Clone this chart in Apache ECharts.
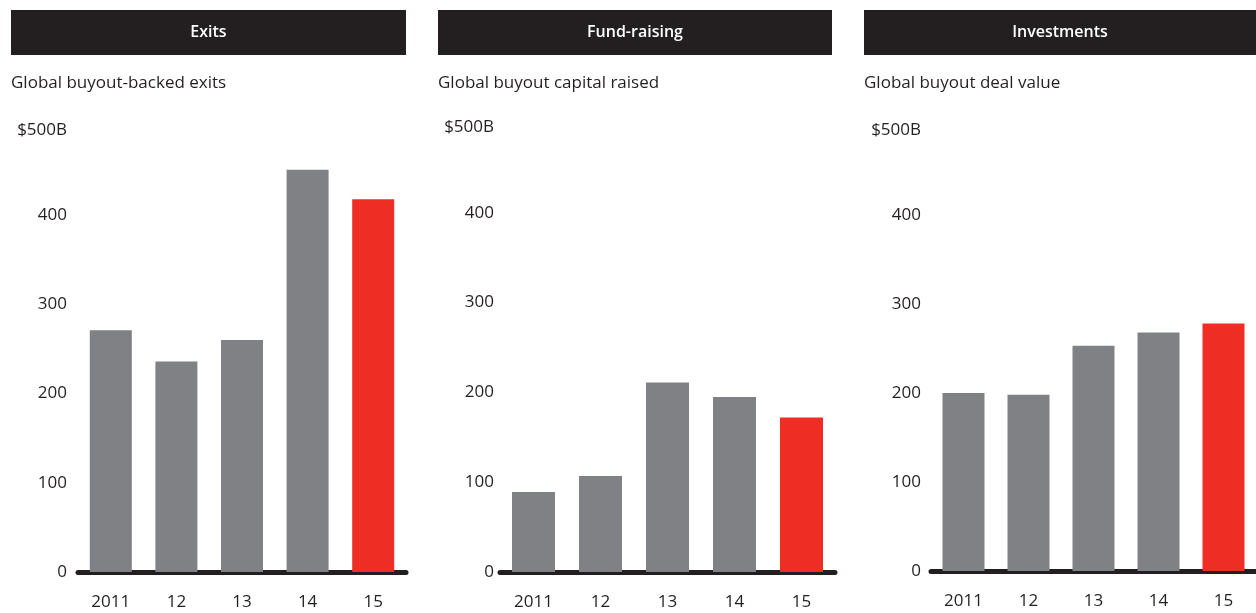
<!DOCTYPE html>
<html>
<head>
<meta charset="utf-8">
<script src="https://cdn.jsdelivr.net/npm/echarts@6/dist/echarts.min.js"></script>
<style>
  html, body { margin: 0; padding: 0; background: #fff; }
  #myChart { width: 1256px; height: 613px; }
</style>
</head>
<body>
<div id="myChart"></div>
<script>
// data
var years = ["2011", "12", "13", "14", "15"];
var headers = ["Exits", "Fund-raising", "Investments"];
var subtitles = ["Global buyout-backed exits", "Global buyout capital raised", "Global buyout deal value"];
var exits = [271, 236, 260, 451, 418];
var fundRaising = [89, 107, 211, 195, 172];
var investments = [200, 198, 253, 268, 278];
var yTicks = [0, 100, 200, 300, 400, 500];

var GRAY = "#808185";
var RED = "#ee2d24";
var DARK = "#231f20";
var FONT = "Open Sans";

var panels = [
  { left: 78, width: 328, top: 126, height: 446, barW: 42, labelMargin: 11, hx: 11, hw: 395, data: exits },
  { left: 500, width: 335, top: 123, height: 449, barW: 43, labelMargin: 6, hx: 438, hw: 394, data: fundRaising },
  { left: 931, width: 327, top: 126, height: 445, barW: 42, labelMargin: 10, hx: 864, hw: 400, data: investments }
];

let myChart = echarts.init(document.getElementById("myChart"));

var grids = [], xAxes = [], yAxes = [], series = [], titles = [], graphics = [];
panels.forEach(function (p, i) {
  grids.push({ left: p.left, top: p.top, width: p.width, height: p.height });
  xAxes.push({
    type: "category",
    gridIndex: i,
    data: years,
    offset: 2.5,
    axisLine: { lineStyle: { color: DARK, width: 5 } },
    axisTick: { show: false },
    axisLabel: { color: DARK, fontSize: 17, fontFamily: FONT, margin: 19 }
  });
  yAxes.push({
    type: "value",
    gridIndex: i,
    min: yTicks[0],
    max: yTicks[yTicks.length - 1],
    interval: 100,
    axisLine: { show: false },
    axisTick: { show: false },
    splitLine: { show: false },
    axisLabel: {
      color: DARK,
      fontSize: 17,
      fontFamily: FONT,
      margin: p.labelMargin,
      formatter: function (v) {
        return v === 500 ? "{top|$500B}" : String(v);
      },
      rich: { top: { fontSize: 17, fontFamily: FONT, color: DARK, padding: [8, 0, 0, 0] } }
    }
  });
  series.push({
    type: "bar",
    xAxisIndex: i,
    yAxisIndex: i,
    barWidth: p.barW,
    data: p.data.map(function (v, j) {
      return { value: v, itemStyle: { color: j === p.data.length - 1 ? RED : GRAY } };
    }),
    silent: true
  });
  titles.push({
    text: subtitles[i],
    left: p.hx,
    top: 75,
    padding: 0,
    textStyle: { color: DARK, fontSize: 17, fontWeight: "normal", fontFamily: FONT }
  });
  // header bar
  graphics.push({
    type: "rect",
    shape: { x: p.hx, y: 10, width: p.hw, height: 45 },
    style: { fill: DARK }
  });
  graphics.push({
    type: "text",
    x: p.hx + Math.min(p.hw, 1256 - p.hx) / 2,
    y: 32.5,
    style: {
      text: headers[i],
      fill: "#fff",
      font: "600 16px '" + FONT + "'",
      align: "center",
      verticalAlign: "middle"
    }
  });
});

var option = {
  animation: false,
  title: titles,
  grid: grids,
  xAxis: xAxes,
  yAxis: yAxes,
  series: series,
  graphic: graphics
};
myChart.setOption(option);
</script>
</body>
</html>
